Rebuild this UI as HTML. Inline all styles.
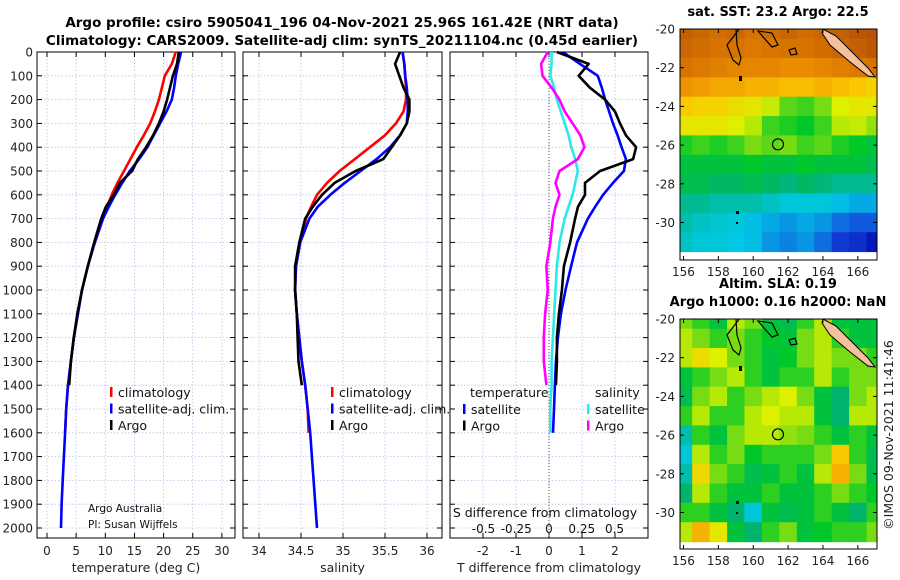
<!DOCTYPE html>
<html><head><meta charset="utf-8">
<style>
html,body{margin:0;padding:0;background:#fff;}
svg{display:block;font-family:"DejaVu Sans","Liberation Sans",sans-serif;}
</style></head>
<body>
<svg id="fig" width="900" height="580" viewBox="0 0 900 580" xmlns="http://www.w3.org/2000/svg">
<text x="342" y="27" font-size="13.5" font-weight="bold" text-anchor="middle">Argo profile: csiro 5905041_196 04-Nov-2021 25.96S 161.42E (NRT data)</text>
<text x="342" y="45" font-size="13.5" font-weight="bold" text-anchor="middle">Climatology: CARS2009. Satellite-adj clim: synTS_20211104.nc (0.45d earlier)</text>
<g id="panels"></g>
<g id="maps"></g>
<text transform="translate(893,435) rotate(-90)" font-size="12.5" text-anchor="middle" fill="#222">©IMOS 09-Nov-2021 11:41:46</text>
</svg>
<script>
// ---------- profile data ----------
const depths = [0,50,100,150,200,250,300,350,400,450,500,550,600,650,700,800,900,1000,1100,1200,1300,1400,1500,1600,1700,1800,1900,2000];
const tempClim = [22.1,21.4,20.2,19.7,19.2,18.5,17.7,16.6,15.4,14.3,13.2,12.1,11.1,10.3,9.6,8.2,7.0,6.0,5.3,4.6,4.1,3.6,3.3,3.1];
const tempSat  = [23.0,22.5,22.1,21.8,21.4,20.5,19.4,18.3,17.2,15.8,14.2,12.9,11.7,10.6,9.6,8.2,7.0,6.0,5.3,4.6,4.1,3.6,3.3,3.1,2.9,2.7,2.5,2.4];
const tempArgo = [22.6,22.3,21.6,21.1,20.6,20.0,19.2,18.2,17.0,15.6,14.6,12.5,11.5,10.1,9.3,8.1,7.0,6.0,5.2,4.6,4.1,3.8];
const salClim = [35.71,35.73,35.74,35.75,35.75,35.72,35.63,35.50,35.32,35.14,34.96,34.81,34.69,34.62,34.56,34.49,34.44,34.43,34.45,34.48,34.51,34.55,34.58,34.59];
const salSat  = [35.71,35.73,35.74,35.76,35.77,35.77,35.76,35.68,35.56,35.40,35.21,35.02,34.85,34.70,34.60,34.49,34.44,34.43,34.45,34.48,34.51,34.55,34.58,34.61,34.63,34.65,34.67,34.69];
const salArgo = [35.68,35.62,35.67,35.72,35.79,35.79,35.76,35.68,35.58,35.48,35.15,34.90,34.75,34.64,34.55,34.48,34.43,34.43,34.45,34.46,34.47,34.51];
const dTSat  = [0.42,0.94,1.48,1.60,1.70,1.82,1.94,2.08,2.20,2.33,2.27,1.94,1.64,1.40,1.18,0.85,0.67,0.50,0.36,0.27,0.21,0.18,0.15,0.12];
const dTArgo = [0.24,1.20,0.90,1.24,1.70,2.00,2.15,2.33,2.64,2.55,1.55,1.09,1.09,0.88,0.79,0.64,0.45,0.39,0.30,0.24,0.24,0.21];
const dSSat  = [0.02,0.02,0.01,0.04,0.06,0.09,0.12,0.15,0.17,0.20,0.22,0.20,0.18,0.15,0.12,0.08,0.06,0.05,0.04,0.03,0.02,0.02,0.01,0.01];
const dSArgo = [-0.01,-0.06,-0.05,0.02,0.08,0.12,0.18,0.24,0.27,0.22,0.08,0.05,0.08,0.05,0.03,0.01,-0.02,-0.01,-0.03,-0.04,-0.04,-0.02];
const depthTicks = [0,100,200,300,400,500,600,700,800,900,1000,1100,1200,1300,1400,1500,1600,1700,1800,1900,2000];
const tempTicks = [0,5,10,15,20,25,30];
const salTicks = [34,34.5,35,35.5,36];
const dTTicks = [-2,-1,0,1,2];
const dSTicks = [-0.5,-0.25,0,0.25,0.5];
// ---------- map data (1-degree cells, rows lat -20..-31, cols lon 156..167) ----------
const sstGrid = [
[0.92,0.90,0.88,0.90,0.86,0.88,0.90,0.88,0.90,0.92,0.95,0.96],
[0.90,0.88,0.86,0.86,0.84,0.85,0.86,0.86,0.88,0.90,0.92,0.94],
[0.86,0.84,0.82,0.80,0.80,0.80,0.78,0.78,0.80,0.82,0.84,0.86],
[0.76,0.74,0.72,0.72,0.70,0.70,0.68,0.68,0.70,0.68,0.66,0.64],
[0.66,0.64,0.64,0.62,0.60,0.56,0.48,0.46,0.50,0.58,0.60,0.60],
[0.60,0.60,0.60,0.58,0.55,0.46,0.44,0.42,0.46,0.55,0.56,0.52],
[0.44,0.46,0.44,0.46,0.50,0.48,0.50,0.46,0.48,0.44,0.42,0.40],
[0.40,0.40,0.40,0.40,0.42,0.40,0.40,0.42,0.40,0.40,0.40,0.38],
[0.38,0.38,0.36,0.36,0.38,0.36,0.34,0.36,0.34,0.32,0.32,0.32],
[0.32,0.32,0.30,0.30,0.30,0.28,0.26,0.26,0.26,0.24,0.22,0.22],
[0.30,0.28,0.27,0.26,0.24,0.22,0.20,0.22,0.20,0.16,0.14,0.14],
[0.28,0.26,0.26,0.25,0.24,0.20,0.18,0.20,0.16,0.10,0.08,0.04]];
const slaGrid = [
[0.50,0.45,0.40,0.55,0.50,0.40,0.38,0.45,0.55,0.40,0.40,0.40],
[0.55,0.50,0.45,0.50,0.45,0.42,0.40,0.50,0.55,0.45,0.40,0.40],
[0.55,0.62,0.58,0.50,0.45,0.40,0.42,0.50,0.55,0.50,0.50,0.45],
[0.40,0.45,0.50,0.55,0.45,0.40,0.45,0.45,0.55,0.45,0.50,0.50],
[0.38,0.50,0.55,0.45,0.50,0.55,0.58,0.50,0.40,0.35,0.50,0.55],
[0.45,0.55,0.45,0.45,0.55,0.58,0.55,0.55,0.40,0.35,0.55,0.55],
[0.30,0.45,0.40,0.50,0.55,0.55,0.52,0.50,0.45,0.40,0.45,0.40],
[0.26,0.55,0.45,0.50,0.42,0.45,0.45,0.45,0.50,0.66,0.45,0.38],
[0.30,0.63,0.50,0.45,0.38,0.40,0.45,0.40,0.55,0.70,0.50,0.38],
[0.35,0.55,0.45,0.40,0.40,0.45,0.40,0.40,0.45,0.50,0.45,0.42],
[0.45,0.45,0.40,0.35,0.26,0.40,0.38,0.40,0.45,0.40,0.35,0.45],
[0.55,0.70,0.60,0.40,0.35,0.45,0.50,0.40,0.42,0.45,0.45,0.50]];
const lonTicks = [156,158,160,162,164,166];
const latTicks = [-20,-22,-24,-26,-28,-30];
const floatLon = 161.42, floatLat = -25.96;

const NS='http://www.w3.org/2000/svg';
function mk(tag, attrs, parent, txt){const e=document.createElementNS(NS,tag);for(const k in attrs)e.setAttribute(k,attrs[k]);if(txt!==undefined)e.textContent=txt;parent.appendChild(e);return e;}
const panelsG=document.getElementById('panels');
const mapsG=document.getElementById('maps');
const yDepth = d => 52 + d*0.238;
const PT=52, PB=538;

function panel(name, L, R, xScale, xticks, tickFmt, xlabel){
  const g=mk('g',{},panelsG);
  
  
  mk('rect',{x:L,y:PT,width:R-L,height:PB-PT,fill:'#fff'},g);
  depthTicks.forEach(d=>{
    mk('line',{x1:L,x2:R,y1:yDepth(d),y2:yDepth(d),stroke:'#b8c4e8','stroke-width':0.8,'stroke-dasharray':'1.5,2'},g);
    mk('line',{x1:L,x2:L+5,y1:yDepth(d),y2:yDepth(d),stroke:'#000'},g);
    mk('line',{x1:R-5,x2:R,y1:yDepth(d),y2:yDepth(d),stroke:'#000'},g);
  });
  xticks.forEach(t=>{
    const x=xScale(t);
    mk('line',{x1:x,x2:x,y1:PT,y2:PB,stroke:'#b8c4e8','stroke-width':0.8,'stroke-dasharray':'1.5,2'},g);
    mk('line',{x1:x,x2:x,y1:PB-5,y2:PB,stroke:'#000'},g);
    mk('line',{x1:x,x2:x,y1:PT,y2:PT+5,stroke:'#000'},g);
    const tl=mk('text',{x:x,y:555,'font-size':12,'text-anchor':'middle',fill:'#222'},g,tickFmt(t));
    
    
  });
  const xl=mk('text',{x:(L+R)/2,y:572,'font-size':12.5,'text-anchor':'middle',fill:'#222'},g,xlabel);
  
  
  mk('rect',{x:L,y:PT,width:R-L,height:PB-PT,fill:'none',stroke:'#000','stroke-width':1},g);
  return g;
}
function line(g, vals, xScale, color, name, w){
  const pts=vals.map((v,i)=>xScale(v).toFixed(1)+','+yDepth(depths[i]).toFixed(1)).join(' ');
  const p=mk('polyline',{points:pts,fill:'none',stroke:color,'stroke-width':w||2.6,'stroke-linejoin':'round'},g);
  
  
}
function legend(g, x, y0, items){
  items.forEach((it,i)=>{
    const y=y0+i*16.5;
    mk('rect',{x:x,y:y-10,width:2.5,height:10,fill:it[1]},g);
    const t=mk('text',{x:x+8,y:y,'font-size':12.5,fill:'#111'},g,it[0]);
    
    
  });
}

// Panel 1: temperature
const xT = t => 47 + t*5.83;
const g1=panel('temperature-panel',37,235,xT,tempTicks,String,'temperature (deg C)');
depthTicks.forEach(d=>{
  const t=mk('text',{x:33,y:yDepth(d)+4.5,'font-size':12,'text-anchor':'end',fill:'#222'},g1,String(d));
  
  
});
line(g1,tempClim,xT,'#f00','temp-climatology-line');
line(g1,tempSat,xT,'#00f','temp-satellite-line');
line(g1,tempArgo,xT,'#000','temp-argo-line');
legend(g1,110,397,[['climatology','#f00'],['satellite-adj. clim.','#00f'],['Argo','#000']]);
const c1=mk('text',{x:88,y:512,'font-size':10.5,fill:'#111'},g1,'Argo Australia');


const c2=mk('text',{x:88,y:528,'font-size':10.5,fill:'#111'},g1,'PI: Susan Wijffels');



// Panel 2: salinity
const xS = s => 259 + (s-34)*84;
const g2=panel('salinity-panel',243,442,xS,salTicks,String,'salinity');
line(g2,salClim,xS,'#f00','sal-climatology-line');
line(g2,salSat,xS,'#00f','sal-satellite-line');
line(g2,salArgo,xS,'#000','sal-argo-line');
legend(g2,331,397,[['climatology','#f00'],['satellite-adj. clim.','#00f'],['Argo','#000']]);

// Panel 3: differences
const xDT = v => 549 + v*33;
const xDS = v => 549 + v*131;
const g3=panel('difference-panel',450,648,xDT,dTTicks,String,'T difference from climatology');
mk('line',{x1:549,x2:549,y1:PT,y2:PB,stroke:'#555','stroke-width':1,'stroke-dasharray':'1,2'},g3);
line(g3,dSSat,xDS,'#2ee8e8','sdiff-satellite-line');
line(g3,dSArgo,xDS,'#f0f','sdiff-argo-line');
line(g3,dTSat,xDT,'#00f','tdiff-satellite-line');
line(g3,dTArgo,xDT,'#000','tdiff-argo-line');
const lt=mk('text',{x:470,y:397,'font-size':12.5,fill:'#111'},g3,'temperature');


const ls=mk('text',{x:595,y:397,'font-size':12.5,fill:'#111'},g3,'salinity');


legend(g3,463,414,[['satellite','#00f'],['Argo','#000']]);
legend(g3,587,414,[['satellite','#2ee8e8'],['Argo','#f0f']]);
const st=mk('text',{x:545,y:517,'font-size':12.5,'text-anchor':'middle',fill:'#111'},g3,'S difference from climatology');


dSTicks.forEach(v=>{
  const t=mk('text',{x:xDS(v),y:533,'font-size':12,'text-anchor':'middle',fill:'#111'},g3,String(v));
  
  
});

// ---------- maps ----------
const ML=680, MR=877, LON0=155.8, LON1=167.1;
const lonX = lon => ML + (lon-LON0)/(LON1-LON0)*(MR-ML);
function cmap(v){
  const stops=[[0,[0,0,170]],[0.12,[20,70,220]],[0.25,[0,200,230]],[0.35,[0,180,110]],[0.42,[0,200,40]],[0.5,[120,220,20]],[0.58,[220,240,0]],[0.66,[250,200,0]],[0.75,[240,150,0]],[0.86,[215,115,0]],[1,[170,70,10]]];
  for(let i=1;i<stops.length;i++){if(v<=stops[i][0]){const a=stops[i-1],b=stops[i],f=(v-a[0])/(b[0]-a[0]);return 'rgb('+a[1].map((c,k)=>Math.round(c+(b[1][k]-c)*f)).join(',')+')';}}
  return 'rgb(170,70,10)';
}
function map(name, top, bottom, grid, titleLines){
  const latY = lat => top + (-20-lat)*19.35;
  const g=mk('g',{},mapsG);
  
  
  const clipId=name+'-clip';
  const cp=mk('clipPath',{id:clipId},g);
  mk('rect',{x:ML,y:top,width:MR-ML,height:bottom-top},cp);
  const cells=mk('g',{'clip-path':'url(#'+clipId+')'},g);
  grid.forEach((row,r)=>row.forEach((v,c)=>{
    const x0=lonX(156+c-0.5), x1=lonX(156+c+0.5);
    const y0=latY(-20-r+0.5), y1=latY(-20-r-0.5);
    const cell=mk('rect',{x:x0.toFixed(1),y:y0.toFixed(1),width:(x1-x0+0.6).toFixed(1),height:(y1-y0+0.6).toFixed(1),fill:cmap(v)},cells);
    
    
  }));
  // coastlines
  const o=top-29;
  mk('path',{d:`M${lonX(159.2)},${top} L727,${45+o} L733,${60+o} L739,${65+o} L741,${58+o} L737,${45+o} L736,${top} Z`,fill:'none',stroke:'#000','stroke-width':1.2},cells);
  mk('path',{d:`M758,${31+o} L772,${33+o} L778,${45+o} L772,${47+o} L764,${38+o} Z`,fill:'none',stroke:'#000','stroke-width':1.2},cells);
  mk('path',{d:`M789,${50+o} L795,${48+o} L797,${54+o} L791,${55+o} Z`,fill:'none',stroke:'#000','stroke-width':1.2},cells);
  mk('path',{d:`M823,${top} L836,${36+o} L852,${52+o} L868,${68+o} L875,${77+o} L868,${76+o} L850,${62+o} L830,${45+o} L822,${33+o} Z`,fill:'#f5c09c',stroke:'#000','stroke-width':1},cells);
  mk('rect',{x:739,y:76+o,width:3,height:5,fill:'#000'},cells);
  mk('rect',{x:736,y:211+o,width:3,height:3,fill:'#000'},cells);
  mk('rect',{x:736,y:222+o,width:2,height:2,fill:'#000'},cells);
  const fl=mk('circle',{cx:lonX(floatLon),cy:latY(floatLat),r:5.5,fill:'none',stroke:'#000','stroke-width':1.2},g);
  
  
  mk('rect',{x:ML,y:top,width:MR-ML,height:bottom-top,fill:'none',stroke:'#000','stroke-width':1},g);
  latTicks.forEach(l=>{
    const y=latY(l);
    mk('line',{x1:ML,x2:ML+4,y1:y,y2:y,stroke:'#000'},g);
    mk('line',{x1:MR-4,x2:MR,y1:y,y2:y,stroke:'#000'},g);
    const t=mk('text',{x:675,y:y+4.5,'font-size':12,'text-anchor':'end',fill:'#222'},g,String(l));
    
    
  });
  lonTicks.forEach(l=>{
    const x=lonX(l);
    mk('line',{x1:x,x2:x,y1:bottom-4,y2:bottom,stroke:'#000'},g);
    mk('line',{x1:x,x2:x,y1:top,y2:top+4,stroke:'#000'},g);
    const t=mk('text',{x:x,y:bottom+16,'font-size':12,'text-anchor':'middle',fill:'#222'},g,String(l));
    
    
  });
  titleLines.forEach((s,i)=>{
    const t=mk('text',{x:778,y:top-13-(titleLines.length-1-i)*18+ (titleLines.length>1?0:0),'font-size':13,'font-weight':'bold','text-anchor':'middle'},g,s);
    
    
  });
}
map('sst-map',29,260,sstGrid,['sat. SST: 23.2 Argo: 22.5']);
map('sla-map',319,549,slaGrid,['Altim. SLA: 0.19','Argo h1000: 0.16 h2000: NaN']);
</script>
</body></html>
